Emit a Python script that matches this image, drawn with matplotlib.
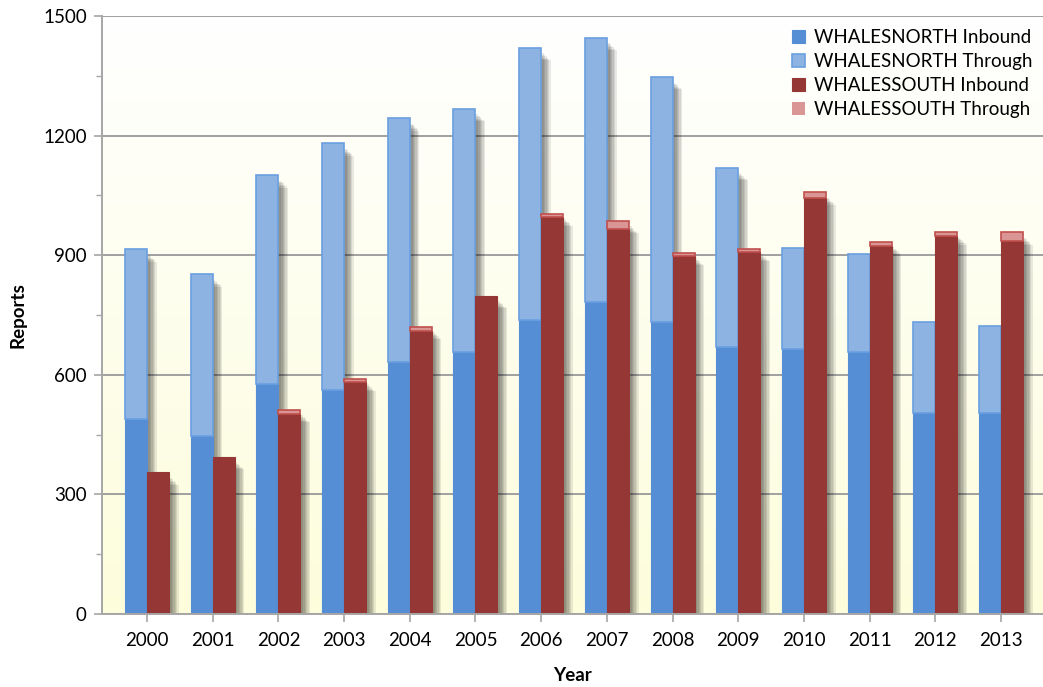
import numpy as np
import matplotlib
matplotlib.use("Agg")
import matplotlib.pyplot as plt
import matplotlib.patheffects as pe
from matplotlib.colors import to_rgb
from matplotlib.ticker import MultipleLocator

years = ["2000", "2001", "2002", "2003", "2004", "2005", "2006",
         "2007", "2008", "2009", "2010", "2011", "2012", "2013"]

north_inbound = [489, 447, 578, 562, 631, 657, 737, 782, 733, 670, 664, 658, 505, 505]
north_through = [426, 405, 523, 619, 613, 610, 683, 664, 614, 449, 253, 244, 228, 218]
south_inbound = [355, 394, 502, 583, 711, 798, 995, 966, 898, 907, 1043, 923, 948, 935]
south_through = [0, 0, 10, 7, 10, 0, 9, 20, 8, 9, 15, 11, 10, 22]

series_labels = ["WHALESNORTH Inbound", "WHALESNORTH Through",
                 "WHALESSOUTH Inbound", "WHALESSOUTH Through"]

plt.rcParams["font.family"] = ["Lato", "DejaVu Sans"]
FS = 13.5

W, H = 1043, 687
fig = plt.figure(figsize=(W / 100, H / 100), dpi=100)
ax = fig.add_axes([102 / W, 1 - 614 / H, (1043 - 102) / W, (614 - 16) / H])

x = np.arange(len(years))
bw = 0.335

# background: white at the top fading to pale yellow
top = np.array(to_rgb("#ffffff"))
bot = np.array(to_rgb("#fdfddc"))
t = np.linspace(0, 1, 256)[:, None]
grad = (top * (1 - t) + bot * t)[:, None, :]
ax.imshow(grad, extent=[0, 1, 0, 1], transform=ax.transAxes, aspect="auto",
          zorder=0, interpolation="bilinear")
ax.set_facecolor("none")

ni = np.array(north_inbound)
nt = np.array(north_through)
si = np.array(south_inbound)
st = np.array(south_through)

# soft drop shadows behind each stack
shadow_fx = [pe.SimplePatchShadow(offset=(o, -o - 2), shadow_rgbFace="black", alpha=0.085)
             for o in (2, 3, 4, 5, 6, 7)]
for xs, tot in ((x - bw / 2, ni + nt), (x + bw / 2, si + st)):
    sb = ax.bar(xs, tot, bw, color="none", zorder=1.5)
    for p in sb:
        p.set_path_effects(shadow_fx)

def lw(vals, w):
    return [w if v > 0 else 0 for v in vals]

ax.bar(x - bw / 2, ni, bw, color="#558ed5", edgecolor="#558ed5", linewidth=0.8,
       zorder=2, label=series_labels[0])
ax.bar(x - bw / 2, nt, bw, bottom=ni, color="#8db3e2", edgecolor="#6a9fe0",
       linewidth=1.2, zorder=2, label=series_labels[1])
ax.bar(x + bw / 2, si, bw, color="#953735", edgecolor="#953735", linewidth=0.8,
       zorder=2, label=series_labels[2])
ax.bar(x + bw / 2, st, bw, bottom=si, color="#d99694", edgecolor="#c0504d",
       linewidth=lw(st, 1.2), zorder=2, label=series_labels[3])

ax.set_xlim(-0.685, 13.64)
ax.set_ylim(0, 1500)
ax.yaxis.set_major_locator(MultipleLocator(300))
ax.yaxis.set_minor_locator(MultipleLocator(150))
ax.set_xticks(x)
ax.set_xticklabels(years)

ax.grid(axis="y", which="major", color="#a0a0a0", linewidth=1.4, zorder=0.5)
ax.set_axisbelow(True)

for s in ("top", "right"):
    ax.spines[s].set_visible(False)
for s in ("left", "bottom"):
    ax.spines[s].set_color("#a6a6a6")
    ax.spines[s].set_linewidth(1.4)

ax.tick_params(axis="y", which="major", length=6, width=1.2, color="#a6a6a6",
               labelsize=FS, pad=5, labelcolor="#000000")
ax.tick_params(axis="y", which="minor", length=4, width=1.0, color="#a6a6a6")
ax.tick_params(axis="x", which="major", length=6, width=1.2, color="#a6a6a6",
               labelsize=FS, pad=7, labelcolor="#000000")

ax.set_ylabel("Reports", fontsize=FS, fontweight="bold", labelpad=12)
ax.set_xlabel("Year", fontsize=FS, fontweight="bold", labelpad=13)

leg = ax.legend(loc="upper left", bbox_to_anchor=(792 / W, 1 - 29 / H),
                bbox_transform=fig.transFigure, frameon=False, fontsize=FS,
                handlelength=0.7, handleheight=0.7, handletextpad=0.45,
                labelspacing=0.38, borderpad=0, borderaxespad=0)

fig.savefig("out.png", dpi=100)
